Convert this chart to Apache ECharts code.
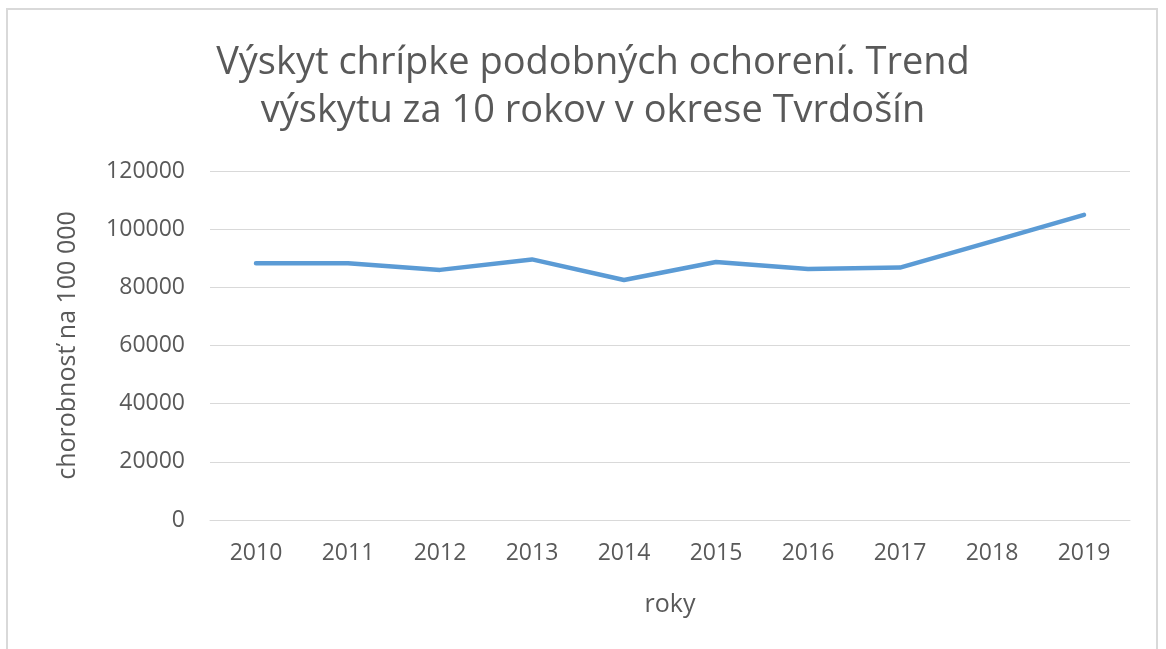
<!DOCTYPE html>
<html>
<head>
<meta charset="utf-8">
<script src="https://cdn.jsdelivr.net/npm/echarts@6/dist/echarts.min.js"></script>
<style>
    html, body { margin: 0; padding: 0; background: #fff; }
    #frame {
        position: absolute; left: 6px; top: 8px; width: 1152px; height: 660px;
        border: 2px solid #d9d9d9; box-sizing: border-box;
    }
    #chart { position: absolute; left: 0; top: 0; width: 1166px; height: 649px; }
</style>
</head>
<body>
<div id="frame"></div>
<div id="chart"></div>
<script>
// roky a chorobnosť (odčítané z grafu)
var years = ['2010', '2011', '2012', '2013', '2014', '2015', '2016', '2017', '2018', '2019'];
var incidence = [88300, 88300, 86000, 89600, 82500, 88700, 86300, 86800, 95800, 104900];
var yTicks = [0, 20000, 40000, 60000, 80000, 100000, 120000];

var titleText = 'Výskyt chrípke podobných ochorení. Trend\nvýskytu za 10 rokov v okrese Tvrdošín';
var textColor = '#595959';
var font = '"Open Sans", "Noto Sans", sans-serif';

var myChart = echarts.init(document.getElementById('chart'));

var option = {
    animation: false,
    title: {
        text: titleText,
        left: 588,
        top: 34,
        textAlign: 'center',
        textStyle: {
            fontFamily: font,
            fontSize: 38,
            fontWeight: 'normal',
            color: textColor,
            lineHeight: 48
        }
    },
    grid: {
        left: 210,
        right: 36,
        top: 171,
        bottom: 129,
        containLabel: false
    },
    xAxis: {
        type: 'category',
        data: years,
        boundaryGap: true,
        name: 'roky',
        nameLocation: 'middle',
        nameGap: 72,
        nameTextStyle: { fontFamily: font, fontSize: 25, color: textColor },
        axisLine: { show: true, lineStyle: { color: '#d9d9d9', width: 1 } },
        axisTick: { show: false },
        axisLabel: { fontFamily: font, fontSize: 23, color: textColor, margin: 22 }
    },
    yAxis: {
        type: 'value',
        min: yTicks[0],
        max: yTicks[yTicks.length - 1],
        interval: 20000,
        name: 'chorobnosť na 100 000',
        nameLocation: 'middle',
        nameGap: 130,
        nameTextStyle: { fontFamily: font, fontSize: 25, color: textColor },
        axisLine: { show: false },
        axisTick: { show: false },
        axisLabel: {
            fontFamily: font, fontSize: 23, color: textColor, margin: 25,
            formatter: function (v) { return String(v); }
        },
        splitLine: { lineStyle: { color: '#d9d9d9', width: 1 } }
    },
    series: [{
        type: 'line',
        data: incidence,
        showSymbol: false,
        symbol: 'none',
        lineStyle: { color: '#5b9bd5', width: 4.5, cap: 'round', join: 'round' }
    }]
};

myChart.setOption(option);
</script>
</body>
</html>
